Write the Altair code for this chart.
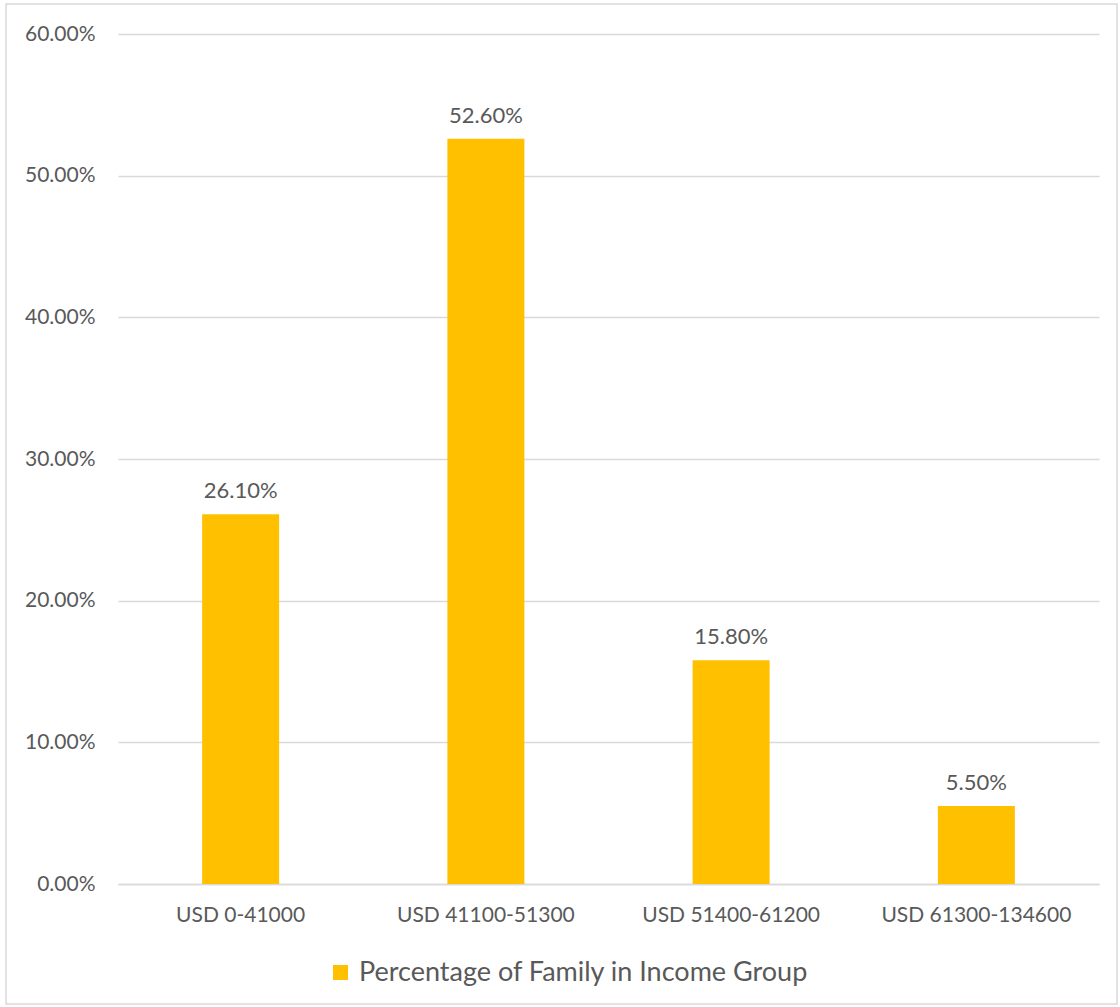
import altair as alt
import pandas as pd

categories = ["USD 0-41000", "USD 41100-51300", "USD 51400-61200", "USD 61300-134600"]
values = [0.261, 0.526, 0.158, 0.055]
series_name = "Percentage of Family in Income Group"

df = pd.DataFrame({"cat": categories, "val": values, "series": [series_name] * 4})

FONT = "Lato"
TXT = "#595959"

base = alt.Chart(df)

border = base.mark_rect(fill="transparent", stroke="#D9D9D9", strokeWidth=1.5).encode(
    x=alt.value(-112), x2=alt.value(999), y=alt.value(-30), y2=alt.value(970)
).transform_filter(alt.datum.cat == categories[0])

bars = base.mark_bar(size=77).encode(
    x=alt.X("cat:N", sort=categories, title=None,
            axis=alt.Axis(labelAngle=0, labelFontSize=21, labelColor=TXT, labelFont=FONT,
                          ticks=False, domain=True, domainColor="#D9D9D9", domainWidth=1.5,
                          labelPadding=20, labelLimit=0)),
    y=alt.Y("val:Q", title=None, scale=alt.Scale(domain=[0, 0.6], nice=False),
            axis=alt.Axis(format=".2%", values=[0, 0.1, 0.2, 0.3, 0.4, 0.5, 0.6],
                          labelFontSize=21, labelColor=TXT, labelFont=FONT, ticks=False,
                          domain=False, grid=True, gridColor="#D9D9D9", gridWidth=1.5,
                          labelPadding=23)),
    color=alt.Color("series:N", scale=alt.Scale(range=["#FFC000"]),
                    legend=alt.Legend(orient="none", legendX=209, legendY=925, title=None,
                                      symbolType="square", symbolSize=225, labelFontSize=27,
                                      labelColor=TXT, labelFont=FONT, padding=0, labelLimit=0,
                                      symbolStrokeWidth=0, labelOffset=5)),
)

labels = base.mark_text(dy=-23, fontSize=22, color=TXT, font=FONT).encode(
    x=alt.X("cat:N", sort=categories),
    y="val:Q",
    text=alt.Text("val:Q", format=".2%"),
)

chart = alt.layer(bars, labels, border).properties(
    width=981, height=850,
    autosize=alt.AutoSizeParams(type="none"),
    padding={"left": 118, "top": 34, "right": 21, "bottom": 123},
).configure_view(stroke=None)

chart.save("out.html", embed_options={"renderer": "svg", "actions": False})
